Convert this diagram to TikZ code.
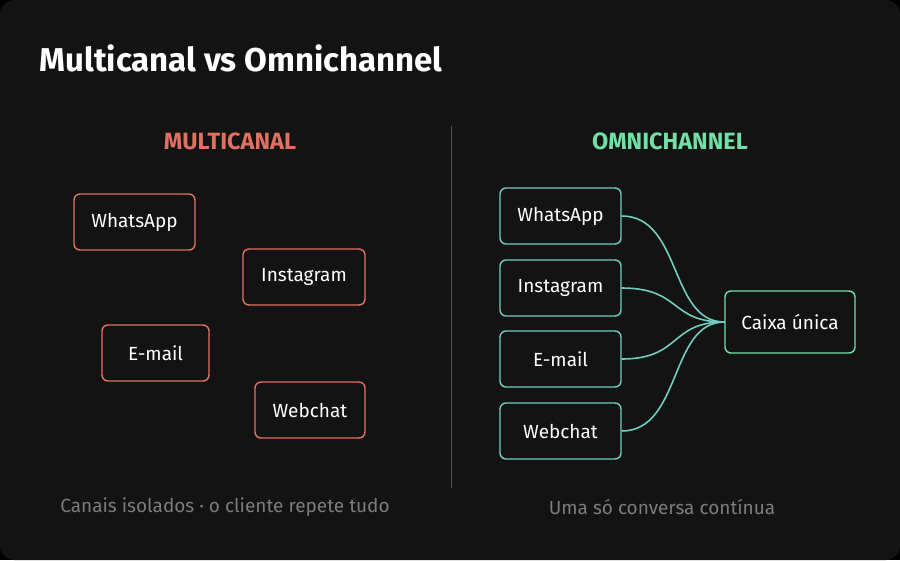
\documentclass[tikz,border=0pt]{standalone}
\usepackage{fontspec}
\setmainfont{Fira Sans}
\usetikzlibrary{positioning}
\definecolor{bgdark}{HTML}{131313}
\definecolor{redline}{HTML}{E0705F}
\definecolor{greenline}{HTML}{72E0A6}
\definecolor{blueline}{HTML}{6CB8D8}
\definecolor{tealline}{HTML}{70CDBF}
\definecolor{greytext}{HTML}{7C7C7C}
\tikzstyle{chan}=[rectangle,rounded corners=6pt,draw=redline,line width=1.4pt,minimum height=56pt,text=white,font=\fontsize{19}{22}\selectfont]
\tikzstyle{omni}=[chan,draw=tealline,minimum width=121pt]
\tikzstyle{link}=[line width=1.6pt]
\begin{document}
\begin{tikzpicture}[x=1pt,y=-1pt]
		\fill[black] (0,0) rectangle (900,560);
		\fill[bgdark,rounded corners=14pt] (0,0) rectangle (900,560);
		\useasboundingbox (0,0) rectangle (900,560);

		% title and headers
		\node[anchor=west,text=white,font=\fontsize{33}{38}\selectfont\bfseries] (title) at (36,58) {Multicanal vs Omnichannel};
		\node[text=redline,font=\fontsize{23.5}{27}\selectfont\bfseries] (mhead) at (230,141) {MULTICANAL};
		\node[text=greenline,font=\fontsize{23.5}{27}\selectfont\bfseries] (ohead) at (670,141) {OMNICHANNEL};
		\draw[line width=1pt,draw=white!25!bgdark] (451,126) coordinate (dtop) -- (451,488) coordinate (dbot);

		% multicanal
		\node[chan,minimum width=121pt] (mwa) at (134.5,222) {WhatsApp};
		\node[chan,minimum width=122pt] (mig) at (304,277) {Instagram};
		\node[chan,minimum width=107pt] (mem) at (155.5,353) {E-mail};
		\node[chan,minimum width=110pt] (mwc) at (310,410) {Webchat};

		% omnichannel
		\node[omni] (owa) at (560.5,216) {WhatsApp};
		\node[omni] (oig) at (560.5,288) {Instagram};
		\node[omni] (oem) at (560.5,359) {E-mail};
		\node[omni] (owc) at (560.5,431) {Webchat};
		\node[chan,draw=greenline,minimum width=130pt,minimum height=62pt] (box) at (790,322) {Caixa única};

		% links
		\foreach \n in {owa,oig,oem,owc}
			\draw[link,draw=tealline] (\n.east) .. controls +(60,0) and +(-55,0) .. (box.west);

		% footers
		\node[text=greytext,font=\fontsize{19}{22}\selectfont] (mfoot) at (225,507) {Canais isolados · o cliente repete tudo};
		\node[text=greytext,font=\fontsize{19}{22}\selectfont] (ofoot) at (662,507) {Uma só conversa contínua};
\end{tikzpicture}
\end{document}
